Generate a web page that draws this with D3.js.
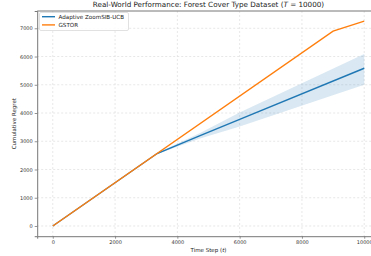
<!DOCTYPE html>
<html>
<head>
<meta charset="utf-8">
<script src="https://cdn.jsdelivr.net/npm/d3@7"></script>
<style>
  body { margin: 0; background: #fff; }
  text { font-family: "DejaVu Sans", sans-serif; }
</style>
</head>
<body>
<div id="chart"></div>
<script>
// data
var gstorSteps = [0, 9000, 10000];
var gstorRegret = [0, 6900, 7255];

var zoomSteps = [0, 3350, 4730, 6000, 10000];
var zoomRegret = [0, 2565, 3197, 3778, 5585];
var zoomLower = [0, 2545, 3100, 3520, 5000];
var zoomUpper = [0, 2585, 3295, 4020, 6090];

var xTicks = [0, 2000, 4000, 6000, 8000, 10000];
var yTicks = [0, 1000, 2000, 3000, 4000, 5000, 6000, 7000];

var W = 371, H = 256;
var margin = {top: 11, left: 37.2};
var plotW = 342.6, plotH = 225.2;

var svg = d3.select("#chart").append("svg")
    .attr("width", W)
    .attr("height", H);

var x = d3.scaleLinear().domain([-500, 10500]).range([margin.left, margin.left + plotW]);
var y = d3.scaleLinear().domain([-362, 7612]).range([margin.top + plotH, margin.top]);

// grid
svg.append("g").selectAll("line").data(xTicks).enter().append("line")
    .attr("x1", function(d) { return x(d); })
    .attr("x2", function(d) { return x(d); })
    .attr("y1", margin.top).attr("y2", margin.top + plotH)
    .attr("stroke", "#ddd").attr("stroke-width", 0.7).attr("stroke-dasharray", "2,2");
svg.append("g").selectAll("line").data(yTicks).enter().append("line")
    .attr("y1", function(d) { return y(d); })
    .attr("y2", function(d) { return y(d); })
    .attr("x1", margin.left).attr("x2", margin.left + plotW)
    .attr("stroke", "#ddd").attr("stroke-width", 0.7).attr("stroke-dasharray", "2,2");

// confidence band
var band = zoomSteps.map(function(t, i) { return {t: t, lo: zoomLower[i], hi: zoomUpper[i]}; });
svg.append("path")
    .datum(band)
    .attr("fill", "#1f77b4")
    .attr("fill-opacity", 0.17)
    .attr("d", d3.area()
        .x(function(d) { return x(d.t); })
        .y0(function(d) { return y(d.lo); })
        .y1(function(d) { return y(d.hi); }));

var line = d3.line()
    .x(function(d) { return x(d[0]); })
    .y(function(d) { return y(d[1]); });

svg.append("path")
    .datum(d3.zip(zoomSteps, zoomRegret))
    .attr("fill", "none")
    .attr("stroke", "#1f77b4")
    .attr("stroke-width", 1.4)
    .attr("d", line);

svg.append("path")
    .datum(d3.zip(gstorSteps, gstorRegret))
    .attr("fill", "none")
    .attr("stroke", "#ff7f0e")
    .attr("stroke-width", 1.4)
    .attr("d", line);

// axes
var xAxis = svg.append("g")
    .attr("transform", "translate(0," + (margin.top + plotH) + ")")
    .call(d3.axisBottom(x).tickValues(xTicks).tickFormat(d3.format("d")).tickSize(2.5).tickPadding(2));
var yAxis = svg.append("g")
    .attr("transform", "translate(" + margin.left + ",0)")
    .call(d3.axisLeft(y).tickValues(yTicks).tickFormat(d3.format("d")).tickSize(2.5).tickPadding(2));

[xAxis, yAxis].forEach(function(a) {
  a.select(".domain").attr("stroke", "#777").attr("stroke-width", 1);
  a.selectAll(".tick line").attr("stroke", "#777").attr("stroke-width", 0.8);
  a.selectAll(".tick text").attr("fill", "#333").style("font-size", "5px");
});

// top spine (right one falls outside the picture)
svg.append("line")
    .attr("x1", margin.left).attr("x2", margin.left + plotW)
    .attr("y1", margin.top).attr("y2", margin.top)
    .attr("stroke", "#777").attr("stroke-width", 1);

// labels
svg.append("text")
    .attr("x", x(5000)).attr("y", 7)
    .attr("text-anchor", "middle")
    .attr("fill", "#222")
    .style("font-size", "7.2px")
    .text("Real-World Performance: Forest Cover Type Dataset (")
    .append("tspan").style("font-style", "italic").text("T")
    .select(function() { return this.parentNode; })
    .append("tspan").text(" = 10000)");

svg.append("text")
    .attr("x", x(5000)).attr("y", 251.5)
    .attr("text-anchor", "middle")
    .attr("fill", "#222")
    .style("font-size", "5.5px")
    .text("Time Step (")
    .append("tspan").style("font-style", "italic").text("t")
    .select(function() { return this.parentNode; })
    .append("tspan").text(")");

svg.append("text")
    .attr("transform", "translate(16," + (margin.top + plotH / 2) + ") rotate(-90)")
    .attr("text-anchor", "middle")
    .attr("fill", "#222")
    .style("font-size", "5.5px")
    .text("Cumulative Regret");

// legend
var legendNames = ["Adaptive ZoomSIB-UCB", "GSTOR"];
var legendColors = ["#1f77b4", "#ff7f0e"];
var lg = svg.append("g").attr("transform", "translate(39.5,12.5)");
lg.append("rect")
    .attr("width", 89).attr("height", 18).attr("rx", 1.5)
    .attr("fill", "#fff").attr("fill-opacity", 0.85)
    .attr("stroke", "#ccc").attr("stroke-width", 0.6);
legendNames.forEach(function(name, i) {
  var g = lg.append("g").attr("transform", "translate(0," + (4.2 + i * 8.2) + ")");
  g.append("line").attr("x1", 2.5).attr("x2", 15.5)
      .attr("stroke", legendColors[i]).attr("stroke-width", 1.4);
  g.append("text").attr("x", 19).attr("y", 2)
      .attr("fill", "#222").style("font-size", "5.6px").text(name);
});
</script>
</body>
</html>
